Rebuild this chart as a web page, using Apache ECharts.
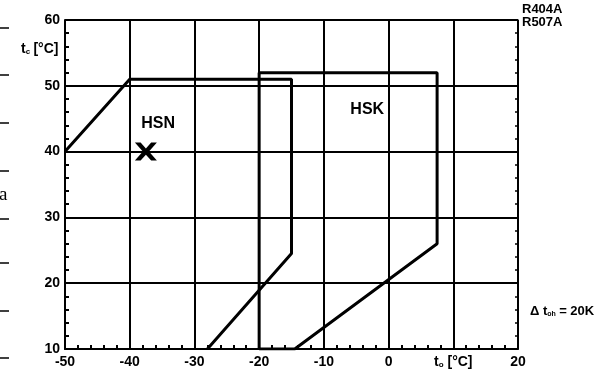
<!DOCTYPE html>
<html><head><meta charset="utf-8">
<script src="https://cdn.jsdelivr.net/npm/echarts@6/dist/echarts.min.js"></script>
<style>html,body{margin:0;padding:0;background:#fff}#c{width:616px;height:376px}</style>
</head><body><div id="c"></div>
<script>
// Data
const xTicks = [-50, -40, -30, -20, -10, 0, 10, 20];
const yTicks = [10, 20, 30, 40, 50, 60];
const hsnX = [-50, -40, -15, -15, -28];
const hsnY = [40, 51, 51, 24.5, 10];
const hskX = [-20, -20, 7.5, 7.5, -14.5, -20];
const hskY = [10, 52, 52, 26, 10, 10];
const markerPoint = [-37.5, 40];
const regionLabels = ['HSN', 'HSK'];
const regionLabelPos = [[-35.6, 44.2], [-3.3, 46.4]];
const refrigerants = ['R404A', 'R507A'];

const F = 'Liberation Sans, Arial, sans-serif';
const zip = (xs, ys) => xs.map((x, i) => [x, ys[i]]);
const chart = echarts.init(document.getElementById('c'));
const lineStyle = {color: '#000', width: 3};
chart.setOption({
  animation: false,
  backgroundColor: '#fff',
  grid: {left: 65, right: 98, top: 20, bottom: 27, show: false},
  xAxis: {
    type: 'value', min: xTicks[0], max: xTicks[xTicks.length - 1], interval: 10,
    axisLine: {show: true, onZero: false, lineStyle: {color: '#000', width: 2}},
    axisTick: {show: false, inside: true},
    minorTick: {show: true, splitNumber: 5, length: 4, lineStyle: {color: '#000', width: 2}},
    splitLine: {show: true, lineStyle: {color: '#000', width: 2}},
    axisLabel: {
      margin: 6, color: '#000', fontFamily: F, fontWeight: 'bold', fontSize: 14,
      formatter: v => v === 10 ? '{t|t}{s|o} {t|[°C]}' : String(v),
      rich: {t: {fontFamily: F, fontWeight: 'bold', fontSize: 14, color: '#000'},
             s: {fontFamily: F, fontWeight: 'bold', fontSize: 8, color: '#000', verticalAlign: 'bottom', padding: [6, 0, 0, 0]}}
    }
  },
  yAxis: [{
    type: 'value', min: yTicks[0], max: yTicks[yTicks.length - 1], interval: 10,
    axisLine: {show: true, onZero: false, lineStyle: {color: '#000', width: 2}},
    axisTick: {show: false, inside: true},
    minorTick: {show: true, splitNumber: 5, length: 4, lineStyle: {color: '#000', width: 2}},
    splitLine: {show: true, lineStyle: {color: '#000', width: 2}},
    axisLabel: {margin: 5, color: '#000', fontFamily: F, fontWeight: 'bold', fontSize: 14}
  }, {
    type: 'value', position: 'right', min: yTicks[0], max: yTicks[yTicks.length - 1], interval: 10,
    axisLine: {show: true, onZero: false, lineStyle: {color: '#000', width: 1.5}},
    axisTick: {show: false, inside: true},
    minorTick: {show: true, splitNumber: 5, length: 3, lineStyle: {color: '#000', width: 1.5}},
    splitLine: {show: false},
    axisLabel: {show: false}
  }],
  series: [
    {type: 'line', data: zip(hsnX, hsnY), symbol: 'none', lineStyle, silent: true},
    {type: 'line', data: zip(hskX, hskY), symbol: 'none', lineStyle, silent: true},
    {type: 'scatter', data: [markerPoint], symbol: 'path://M0,0 L2.6,0 L5,2.6 L7.4,0 L10,0 L6.4,4 L10,8 L7.4,8 L5,5.4 L2.6,8 L0,8 L3.6,4 Z',
     symbolSize: [22, 18], itemStyle: {color: '#000', opacity: 1}, silent: true},
    {type: 'scatter', data: regionLabelPos.map((p, i) => ({value: p, name: regionLabels[i]})), symbolSize: 0,
     itemStyle: {opacity: 1},
     label: {show: true, position: 'inside', formatter: '{b}', color: '#000', fontFamily: F, fontWeight: 'bold', fontSize: 16}, silent: true}
  ],
  graphic: [
    {type: 'text', left: 21, top: 42, style: {text: '{t|t}{s|c} {t|[°C]}', rich: {
      t: {fontFamily: F, fontWeight: 'bold', fontSize: 14, fill: '#000'},
      s: {fontFamily: F, fontWeight: 'bold', fontSize: 8, fill: '#000', padding: [6, 0, 0, 0]}}}},
    {type: 'text', left: 522, top: 3, style: {text: refrigerants.join('\n'), fontFamily: F, fontWeight: 'bold', fontSize: 13, lineHeight: 13, fill: '#000'}},
    {type: 'text', left: 530, top: 305, style: {text: '{t|Δ t}{s|oh} {t|= 20K}', rich: {
      t: {fontFamily: F, fontWeight: 'bold', fontSize: 13, fill: '#000'},
      s: {fontFamily: F, fontWeight: 'bold', fontSize: 7, fill: '#000', padding: [5, 0, 0, 0]}}}},
    {type: 'text', left: -1, top: 186, style: {text: 'a', fontFamily: 'Liberation Serif', fontSize: 19, fill: '#000'}},
    ...[28, 75, 123, 171, 219, 263, 311, 358].map(y => ({type: 'line', shape: {x1: 0, y1: y, x2: 9, y2: y}, style: {stroke: '#000', lineWidth: 1.5}}))
  ]
});
</script></body></html>
